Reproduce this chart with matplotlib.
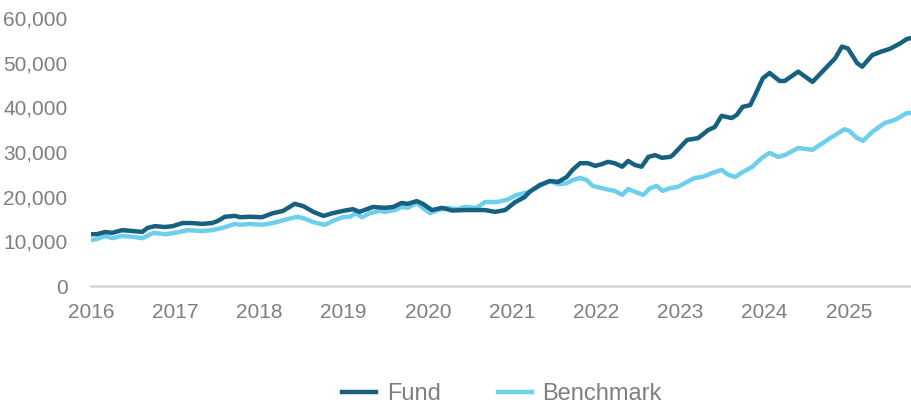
import matplotlib
matplotlib.use("Agg")
import matplotlib.pyplot as plt
from matplotlib.ticker import FuncFormatter

# values (decimal year, growth of 10k)
fund_t = [2016.00, 2016.07, 2016.17, 2016.25, 2016.37, 2016.50, 2016.61, 2016.67, 2016.76, 2016.88,
          2016.97, 2017.09, 2017.20, 2017.32, 2017.44, 2017.51, 2017.59, 2017.71, 2017.77, 2017.89,
          2018.03, 2018.16, 2018.28, 2018.42, 2018.52, 2018.64, 2018.76, 2018.87, 2018.99, 2019.11,
          2019.19, 2019.35, 2019.49, 2019.59, 2019.69, 2019.76, 2019.87, 2019.94, 2020.05, 2020.17,
          2020.29, 2020.44, 2020.56, 2020.68, 2020.80, 2020.92, 2021.04, 2021.15, 2021.21, 2021.33,
          2021.45, 2021.55, 2021.65, 2021.72, 2021.81, 2021.90, 2021.99, 2022.07, 2022.14, 2022.22,
          2022.31, 2022.38, 2022.46, 2022.54, 2022.62, 2022.70, 2022.78, 2022.88, 2022.91, 2023.08,
          2023.21, 2023.33, 2023.41, 2023.49, 2023.61, 2023.67, 2023.74, 2023.83, 2023.89, 2023.98,
          2024.06, 2024.18, 2024.24, 2024.40, 2024.57, 2024.84, 2024.92, 2024.99, 2025.10, 2025.16,
          2025.28, 2025.39, 2025.49, 2025.61, 2025.69, 2025.74]
fund = [11600, 11600, 12100, 11900, 12500, 12300, 12100, 13000, 13400, 13200,
        13400, 14100, 14100, 13900, 14100, 14600, 15500, 15700, 15400, 15500,
        15400, 16300, 16800, 18400, 17900, 16600, 15700, 16300, 16800, 17200,
        16600, 17700, 17500, 17700, 18600, 18400, 19000, 18400, 17000, 17500,
        16900, 17000, 17000, 17000, 16600, 17000, 18800, 19900, 21100, 22600,
        23500, 23300, 24400, 26000, 27500, 27500, 26900, 27300, 27800, 27500,
        26700, 28000, 27100, 26700, 28900, 29300, 28700, 28900, 29300, 32700,
        33100, 34900, 35600, 38100, 37600, 38300, 40100, 40500, 42800, 46500,
        47700, 45900, 45900, 48000, 45700, 51000, 53600, 53200, 49900, 49100,
        51700, 52500, 53100, 54300, 55300, 55500]

bench_t = [2016.00, 2016.07, 2016.17, 2016.25, 2016.37, 2016.50, 2016.61, 2016.74, 2016.88, 2017.00,
           2017.15, 2017.32, 2017.44, 2017.56, 2017.71, 2017.77, 2017.89, 2018.03, 2018.16, 2018.30,
           2018.45, 2018.52, 2018.64, 2018.78, 2018.90, 2018.99, 2019.08, 2019.14, 2019.22, 2019.31,
           2019.43, 2019.49, 2019.61, 2019.69, 2019.76, 2019.87, 2019.94, 2020.03, 2020.12, 2020.23,
           2020.35, 2020.44, 2020.58, 2020.68, 2020.82, 2020.94, 2021.06, 2021.15, 2021.21, 2021.33,
           2021.45, 2021.55, 2021.65, 2021.72, 2021.81, 2021.89, 2021.96, 2022.07, 2022.16, 2022.22,
           2022.31, 2022.38, 2022.46, 2022.56, 2022.64, 2022.72, 2022.79, 2022.88, 2022.97, 2023.17,
           2023.26, 2023.38, 2023.49, 2023.57, 2023.65, 2023.74, 2023.85, 2023.97, 2024.06, 2024.16,
           2024.24, 2024.40, 2024.57, 2024.78, 2024.95, 2025.01, 2025.10, 2025.17, 2025.28, 2025.43,
           2025.55, 2025.69, 2025.74]
bench = [10300, 10500, 11200, 10700, 11200, 11000, 10700, 11900, 11600, 11900,
         12500, 12300, 12500, 13000, 13900, 13700, 13900, 13700, 14100, 14800,
         15500, 15200, 14300, 13700, 14800, 15400, 15500, 16300, 15400, 16300,
         16800, 16600, 17000, 17700, 17500, 18600, 17500, 16300, 17000, 17500,
         17200, 17700, 17500, 18800, 18800, 19300, 20400, 20800, 21100, 22400,
         23500, 22800, 23000, 23700, 24200, 23700, 22400, 21900, 21500, 21300,
         20400, 21700, 21100, 20400, 21900, 22400, 21300, 21900, 22200, 24200,
         24400, 25300, 26000, 24900, 24400, 25500, 26600, 28700, 29800, 28900,
         29300, 30900, 30500, 33100, 35100, 34700, 33100, 32500, 34500, 36500,
         37200, 38700, 38700]

years = list(range(2016, 2026))

plt.rcParams['font.family'] = ['Liberation Sans', 'DejaVu Sans']
grey = '#7f7f7f'

fig = plt.figure(figsize=(9.11, 4.04), dpi=100)
ax = fig.add_axes([91 / 911, 118 / 404, 1 - 91 / 911, 268 / 404])

ax.plot(fund_t, fund, color='#17607f', lw=3.2, label='Fund', solid_joinstyle='round', zorder=3)
ax.plot(bench_t, bench, color='#6dcfec', lw=3.2, label='Benchmark', solid_joinstyle='round', zorder=2)

ax.set_xlim(2016, 2025.74)
ax.set_ylim(0, 60000)
ax.set_xticks(years)
ax.set_yticks(range(0, 60001, 10000))
ax.yaxis.set_major_formatter(FuncFormatter(lambda v, p: f"{int(v):,}"))

for s in ['top', 'right', 'left']:
    ax.spines[s].set_visible(False)
ax.spines['bottom'].set_color('#d9d9d9')
ax.spines['bottom'].set_linewidth(2)
ax.spines['bottom'].set_clip_on(False)

ax.tick_params(axis='both', length=0, labelsize=15, labelcolor=grey)
ax.tick_params(axis='y', pad=17)
ax.tick_params(axis='x', pad=12)

fig.legend(loc='center', bbox_to_anchor=(0.551, 0.025), ncol=2, frameon=False,
           fontsize=17, labelcolor=grey, handlelength=1.45, columnspacing=2.4,
           handletextpad=0.45)

fig.savefig('out.png', dpi=100)
